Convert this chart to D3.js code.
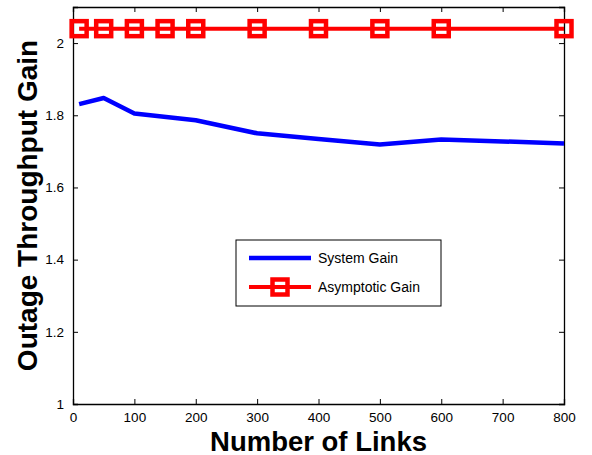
<!DOCTYPE html>
<html>
<head>
<meta charset="utf-8">
<script src="https://cdn.jsdelivr.net/npm/d3@7/dist/d3.min.js"></script>
<style>
  body { margin: 0; background: #fff; }
  svg text { font-family: "Liberation Sans", Arial, sans-serif; }
</style>
</head>
<body>
<svg id="chart" width="592" height="455"></svg>
<script>
// data
const systemLinks = [10, 50, 100, 200, 300, 400, 500, 600, 800];
const systemGain = [1.831, 1.848, 1.805, 1.786, 1.750, 1.734, 1.719, 1.733, 1.722];
const asymLinks = [10, 50, 100, 150, 200, 300, 400, 500, 600, 800];
const asymGain = [2.04, 2.04, 2.04, 2.04, 2.04, 2.04, 2.04, 2.04, 2.04, 2.04];
const xTicks = [0, 100, 200, 300, 400, 500, 600, 700, 800];
const yTicks = [1, 1.2, 1.4, 1.6, 1.8, 2];

const margin = { top: 7, right: 28, bottom: 51, left: 73 };
const width = 592 - margin.left - margin.right,
      height = 455 - margin.top - margin.bottom;

const svg = d3.select("#chart");
const chart = svg.append("g").attr("transform", `translate(${margin.left},${margin.top})`);

let x = d3.scaleLinear().domain([0, 800]).range([0, width]);
let y = d3.scaleLinear().domain([1, 2.1]).range([height, 0]);

// axes, matlab style: ticks inside, box on all four sides
chart.append("g")
    .attr("transform", `translate(0,${height})`)
    .call(d3.axisBottom(x).tickValues(xTicks).tickSize(-5).tickPadding(8).tickFormat(d3.format("d")));
chart.append("g")
    .call(d3.axisTop(x).tickValues(xTicks).tickSize(-5).tickFormat(""));
chart.append("g")
    .call(d3.axisLeft(y).tickValues(yTicks).tickSize(-5).tickPadding(9).tickFormat(d => d3.format("")(d)));
chart.append("g")
    .attr("transform", `translate(${width},0)`)
    .call(d3.axisRight(y).tickValues(yTicks).tickSize(-5).tickFormat(""));

chart.selectAll(".domain").attr("stroke", "#000").attr("stroke-width", 1.3);
chart.selectAll(".tick line").attr("stroke", "#000").attr("stroke-width", 1);
chart.selectAll(".tick text").attr("font-size", "13.5px").attr("fill", "#000");

let line = d3.line()
    .x(d => x(d[0]))
    .y(d => y(d[1]));

chart.append("path")
    .datum(systemLinks.map((l, i) => [l, systemGain[i]]))
    .attr("d", line)
    .attr("fill", "none")
    .attr("stroke", "#0000ff")
    .attr("stroke-width", 4.5)
    .attr("stroke-linejoin", "round");

const asym = asymLinks.map((l, i) => [l, asymGain[i]]);
chart.append("path")
    .datum(asym)
    .attr("d", line)
    .attr("fill", "none")
    .attr("stroke", "#ff0000")
    .attr("stroke-width", 4);

const ms = 15; // marker side
chart.selectAll(".marker")
    .data(asym)
    .join("rect")
    .attr("class", "marker")
    .attr("x", d => x(d[0]) - ms / 2)
    .attr("y", d => y(d[1]) - ms / 2)
    .attr("width", ms)
    .attr("height", ms)
    .attr("fill", "none")
    .attr("stroke", "#ff0000")
    .attr("stroke-width", 4.5);

// legend
const legend = svg.append("g").attr("transform", "translate(236,240)");
legend.append("rect")
    .attr("width", 205)
    .attr("height", 66)
    .attr("fill", "#fff")
    .attr("stroke", "#000")
    .attr("stroke-width", 1);
const legendItems = [
    { name: "System Gain", color: "#0000ff", marker: false, w: 4.5 },
    { name: "Asymptotic Gain", color: "#ff0000", marker: true, w: 4 }
];
legendItems.forEach((item, i) => {
    const ly = 18 + i * 29;
    legend.append("line")
        .attr("x1", 13).attr("x2", 75)
        .attr("y1", ly).attr("y2", ly)
        .attr("stroke", item.color)
        .attr("stroke-width", item.w);
    if (item.marker) {
        legend.append("rect")
            .attr("x", 44 - ms / 2).attr("y", ly - ms / 2)
            .attr("width", ms).attr("height", ms)
            .attr("fill", "none")
            .attr("stroke", item.color)
            .attr("stroke-width", 4.5);
    }
    legend.append("text")
        .attr("x", 82)
        .attr("y", ly + 5)
        .attr("font-size", "14px")
        .attr("fill", "#000")
        .text(item.name);
});

// axis labels
svg.append("text")
    .attr("x", margin.left + width / 2)
    .attr("y", 450.5)
    .attr("text-anchor", "middle")
    .attr("font-size", "27.5px")
    .attr("font-weight", "bold")
    .text("Number of Links");

svg.append("text")
    .attr("transform", `translate(37,${margin.top + height / 2}) rotate(-90)`)
    .attr("text-anchor", "middle")
    .attr("font-size", "28px")
    .attr("font-weight", "bold")
    .text("Outage Throughput Gain");
</script>
</body>
</html>
